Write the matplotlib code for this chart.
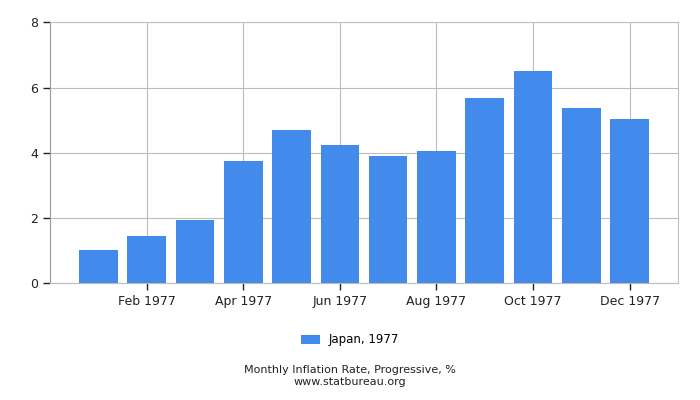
import numpy as np
import matplotlib.pyplot as plt

months = ['Jan 1977', 'Feb 1977', 'Mar 1977', 'Apr 1977', 'May 1977', 'Jun 1977',
          'Jul 1977', 'Aug 1977', 'Sep 1977', 'Oct 1977', 'Nov 1977', 'Dec 1977']
values = [1.00, 1.45, 1.94, 3.75, 4.70, 4.24, 3.90, 4.06, 5.68, 6.51, 5.37, 5.04]
series_name = 'Japan, 1977'
yticks = [0, 2, 4, 6, 8]

fig = plt.figure(figsize=(7, 4), dpi=100)
ax = fig.add_axes([0.0714, 0.2925, 0.8972, 0.6515])

x = np.arange(len(months))
ax.bar(x, values, width=0.8, color='#428bed', label=series_name, zorder=3)

ax.set_xlim(-1, 12)
ax.set_ylim(0, 8)
ax.set_yticks(yticks)
ax.set_xticks(x[1::2])
ax.set_xticklabels(months[1::2])
ax.grid(True, color='#bdbdbd', linewidth=0.8, zorder=0)

for side in ['top', 'right']:
    ax.spines[side].set_color('#c0c0c0')
ax.spines['left'].set_color('#999999')
ax.spines['bottom'].set_color('#bdbdbd')
ax.tick_params(axis='both', length=5, labelsize=9, colors='#222222', width=1)

fig.legend(loc='center', bbox_to_anchor=(0.5, 0.15), frameon=False, fontsize=8.5,
           handlelength=1.6, handleheight=0.7)
fig.text(0.5, 0.075, 'Monthly Inflation Rate, Progressive, %', ha='center', va='center',
         fontsize=8, color='#222222')
fig.text(0.5, 0.045, 'www.statbureau.org', ha='center', va='center', fontsize=8, color='#222222')

fig.savefig('out.png', dpi=100)
